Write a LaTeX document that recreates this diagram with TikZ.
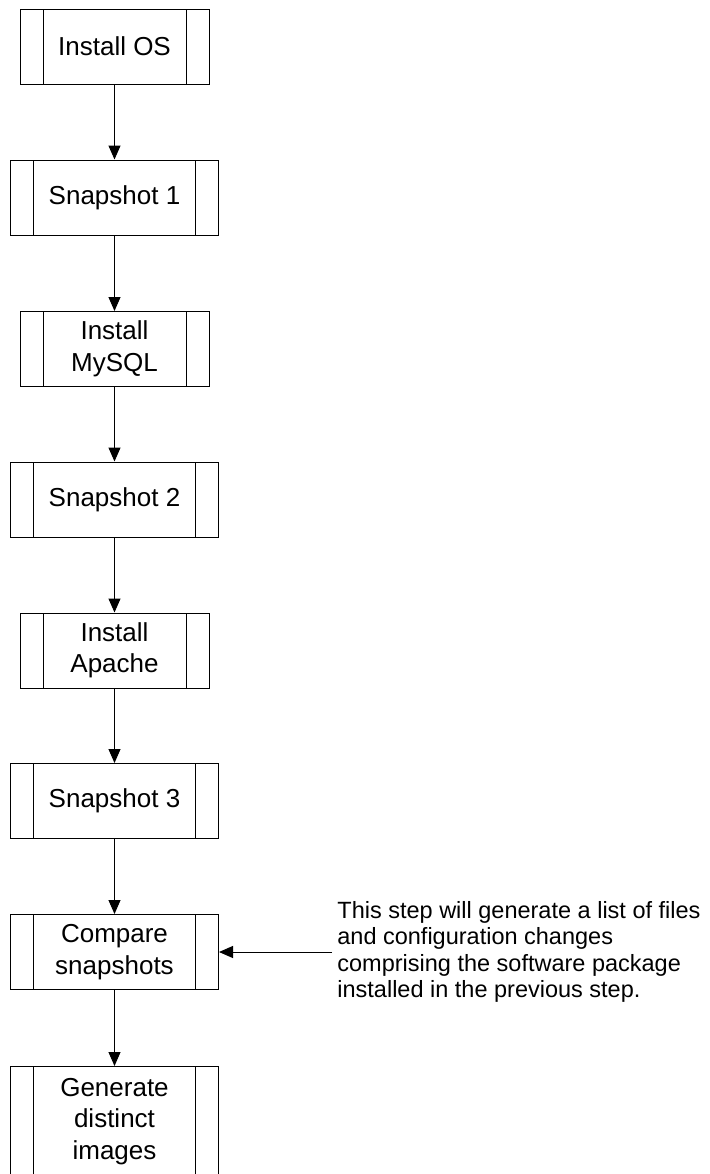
\documentclass[tikz,border=0pt]{standalone}
\usepackage{fontspec}
\setmainfont{Liberation Sans}
\usetikzlibrary{arrows.meta}

\begin{document}
\begin{tikzpicture}[x=0.5pt,y=-0.5pt,
        process/.style={draw,line width=0.5pt,rectangle,minimum height=37.5pt,
            inner sep=0pt,align=center,font=\fontsize{13}{15.75}\selectfont,
            path picture={
                \draw[line width=0.5pt] ([xshift=11.5pt]path picture bounding box.north west) -- ([xshift=11.5pt]path picture bounding box.south west);
                \draw[line width=0.5pt] ([xshift=-11.5pt]path picture bounding box.north east) -- ([xshift=-11.5pt]path picture bounding box.south east);}},
        narrow/.style={process,minimum width=94.5pt},
        wide/.style={process,minimum width=104pt},
        flow/.style={-{Triangle[width=6pt,length=7pt]},line width=0.5pt}]
    \useasboundingbox (0,0) rectangle (709,1174);

    \node[narrow] (os) at (114.5,46.5) {Install OS};
    \node[wide] (snap1) at (114.5,197.5) {Snapshot 1};
    \node[narrow] (mysql) at (114.5,349) {Install\\MySQL};
    \node[wide] (snap2) at (114.5,499.5) {Snapshot 2};
    \node[narrow] (apache) at (114.5,650.5) {Install\\Apache};
    \node[wide] (snap3) at (114.5,801) {Snapshot 3};
    \node[wide] (compare) at (114.5,952) {Compare\\snapshots};
    \node[wide,anchor=north,minimum height=55pt] (images) at (114.5,1066) {Generate\\distinct\\images};

    \draw[flow] (os) -- (snap1);
    \draw[flow] (snap1) -- (mysql);
    \draw[flow] (mysql) -- (snap2);
    \draw[flow] (snap2) -- (apache);
    \draw[flow] (apache) -- (snap3);
    \draw[flow] (snap3) -- (compare);
    \draw[flow] (compare) -- (images);

    % note on the compare step
    \node[anchor=west,align=left,inner sep=2.5pt,font=\fontsize{11.75}{13.25}\selectfont] (note) at (332,952)
        {This step will generate a list of files\\and configuration changes\\comprising the software package\\installed in the previous step.};
    \draw[flow] (note.west) -- (compare.east);
\end{tikzpicture}
\end{document}
